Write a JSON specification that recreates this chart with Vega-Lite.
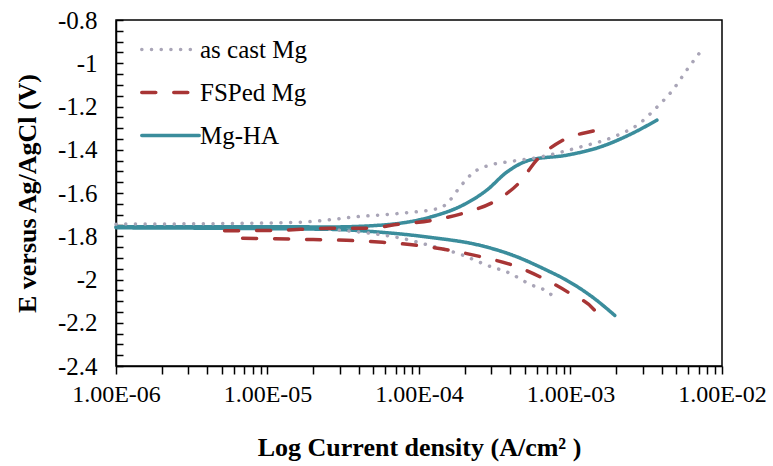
{
  "$schema": "https://vega.github.io/schema/vega-lite/v6.json",
  "width": 606,
  "height": 346,
  "autosize": {"type": "none"},
  "padding": {"left": 116, "top": 20, "right": 51, "bottom": 100},
  "background": "white",
  "config": {
    "view": {"stroke": "black", "strokeWidth": 1.5},
    "font": "Liberation Serif"
  },
  "data": {
    "values": [
      {"s": "Mg-HA", "b": "an", "o": 1, "i": 1e-6, "E": -1.756},
      {"s": "Mg-HA", "b": "an", "o": 2, "i": 3.56e-6, "E": -1.756},
      {"s": "Mg-HA", "b": "an", "o": 3, "i": 1.2e-5, "E": -1.756},
      {"s": "Mg-HA", "b": "an", "o": 4, "i": 2.57e-5, "E": -1.757},
      {"s": "Mg-HA", "b": "an", "o": 5, "i": 5.5e-5, "E": -1.749},
      {"s": "Mg-HA", "b": "an", "o": 6, "i": 1.18e-4, "E": -1.712},
      {"s": "Mg-HA", "b": "an", "o": 7, "i": 1.95e-4, "E": -1.656},
      {"s": "Mg-HA", "b": "an", "o": 8, "i": 2.8e-4, "E": -1.587},
      {"s": "Mg-HA", "b": "an", "o": 9, "i": 3.79e-4, "E": -1.504},
      {"s": "Mg-HA", "b": "an", "o": 10, "i": 5.38e-4, "E": -1.448},
      {"s": "Mg-HA", "b": "an", "o": 11, "i": 9.46e-4, "E": -1.425},
      {"s": "Mg-HA", "b": "an", "o": 12, "i": 1.56e-3, "E": -1.388},
      {"s": "Mg-HA", "b": "an", "o": 13, "i": 2.58e-3, "E": -1.323},
      {"s": "Mg-HA", "b": "an", "o": 14, "i": 3.72e-3, "E": -1.263},
      {"s": "Mg-HA", "b": "ca", "o": 1, "i": 1e-6, "E": -1.761},
      {"s": "Mg-HA", "b": "ca", "o": 2, "i": 2.57e-5, "E": -1.768},
      {"s": "Mg-HA", "b": "ca", "o": 3, "i": 5.5e-5, "E": -1.781},
      {"s": "Mg-HA", "b": "ca", "o": 4, "i": 1.18e-4, "E": -1.805},
      {"s": "Mg-HA", "b": "ca", "o": 5, "i": 2.52e-4, "E": -1.842},
      {"s": "Mg-HA", "b": "ca", "o": 6, "i": 4.16e-4, "E": -1.888},
      {"s": "Mg-HA", "b": "ca", "o": 7, "i": 6.97e-4, "E": -1.957},
      {"s": "Mg-HA", "b": "ca", "o": 8, "i": 9.46e-4, "E": -2.004},
      {"s": "Mg-HA", "b": "ca", "o": 9, "i": 1.4e-3, "E": -2.082},
      {"s": "Mg-HA", "b": "ca", "o": 10, "i": 1.96e-3, "E": -2.166},
      {"s": "as cast Mg", "b": "an", "o": 1, "i": 1e-6, "E": -1.744},
      {"s": "as cast Mg", "b": "an", "o": 2, "i": 7.62e-6, "E": -1.740},
      {"s": "as cast Mg", "b": "an", "o": 3, "i": 1.63e-5, "E": -1.735},
      {"s": "as cast Mg", "b": "an", "o": 4, "i": 2.57e-5, "E": -1.724},
      {"s": "as cast Mg", "b": "an", "o": 5, "i": 3.59e-5, "E": -1.712},
      {"s": "as cast Mg", "b": "an", "o": 6, "i": 7.47e-5, "E": -1.694},
      {"s": "as cast Mg", "b": "an", "o": 7, "i": 1.37e-4, "E": -1.670},
      {"s": "as cast Mg", "b": "an", "o": 8, "i": 1.6e-4, "E": -1.633},
      {"s": "as cast Mg", "b": "an", "o": 9, "i": 1.86e-4, "E": -1.573},
      {"s": "as cast Mg", "b": "an", "o": 10, "i": 2.26e-4, "E": -1.508},
      {"s": "as cast Mg", "b": "an", "o": 11, "i": 2.93e-4, "E": -1.471},
      {"s": "as cast Mg", "b": "an", "o": 12, "i": 3.79e-4, "E": -1.457},
      {"s": "as cast Mg", "b": "an", "o": 13, "i": 6.27e-4, "E": -1.434},
      {"s": "as cast Mg", "b": "an", "o": 14, "i": 1.15e-3, "E": -1.388},
      {"s": "as cast Mg", "b": "an", "o": 15, "i": 1.9e-3, "E": -1.342},
      {"s": "as cast Mg", "b": "an", "o": 16, "i": 2.87e-3, "E": -1.277},
      {"s": "as cast Mg", "b": "an", "o": 17, "i": 3.72e-3, "E": -1.203},
      {"s": "as cast Mg", "b": "an", "o": 18, "i": 4.73e-3, "E": -1.124},
      {"s": "as cast Mg", "b": "an", "o": 19, "i": 5.86e-3, "E": -1.031},
      {"s": "as cast Mg", "b": "an", "o": 20, "i": 7.1e-3, "E": -0.953},
      {"s": "as cast Mg", "b": "ca", "o": 1, "i": 2.57e-5, "E": -1.768},
      {"s": "as cast Mg", "b": "ca", "o": 2, "i": 4.72e-5, "E": -1.786},
      {"s": "as cast Mg", "b": "ca", "o": 3, "i": 7.13e-5, "E": -1.805},
      {"s": "as cast Mg", "b": "ca", "o": 4, "i": 1.23e-4, "E": -1.846},
      {"s": "as cast Mg", "b": "ca", "o": 5, "i": 1.95e-4, "E": -1.888},
      {"s": "as cast Mg", "b": "ca", "o": 6, "i": 2.8e-4, "E": -1.934},
      {"s": "as cast Mg", "b": "ca", "o": 7, "i": 3.97e-4, "E": -1.971},
      {"s": "as cast Mg", "b": "ca", "o": 8, "i": 5.38e-4, "E": -2.022},
      {"s": "as cast Mg", "b": "ca", "o": 9, "i": 7.29e-4, "E": -2.064},
      {"s": "as cast Mg", "b": "ca", "o": 10, "i": 8.1e-4, "E": -2.096},
      {"s": "FSPed Mg", "b": "an", "o": 1, "i": 5.21e-6, "E": -1.775},
      {"s": "FSPed Mg", "b": "an", "o": 2, "i": 1.2e-5, "E": -1.772},
      {"s": "FSPed Mg", "b": "an", "o": 3, "i": 2.57e-5, "E": -1.763},
      {"s": "FSPed Mg", "b": "an", "o": 4, "i": 4.52e-5, "E": -1.763},
      {"s": "FSPed Mg", "b": "an", "o": 5, "i": 7.47e-5, "E": -1.744},
      {"s": "FSPed Mg", "b": "an", "o": 6, "i": 1.23e-4, "E": -1.726},
      {"s": "FSPed Mg", "b": "an", "o": 7, "i": 2.06e-4, "E": -1.689},
      {"s": "FSPed Mg", "b": "an", "o": 8, "i": 3.26e-4, "E": -1.633},
      {"s": "FSPed Mg", "b": "an", "o": 9, "i": 4.62e-4, "E": -1.550},
      {"s": "FSPed Mg", "b": "an", "o": 10, "i": 5.98e-4, "E": -1.448},
      {"s": "FSPed Mg", "b": "an", "o": 11, "i": 8.89e-4, "E": -1.356},
      {"s": "FSPed Mg", "b": "an", "o": 12, "i": 1.49e-3, "E": -1.309},
      {"s": "FSPed Mg", "b": "an", "o": 13, "i": 1.74e-3, "E": -1.295},
      {"s": "FSPed Mg", "b": "ca", "o": 1, "i": 6.85e-6, "E": -1.809},
      {"s": "FSPed Mg", "b": "ca", "o": 2, "i": 1.63e-5, "E": -1.814},
      {"s": "FSPed Mg", "b": "ca", "o": 3, "i": 3.33e-5, "E": -1.819},
      {"s": "FSPed Mg", "b": "ca", "o": 4, "i": 5.75e-5, "E": -1.828},
      {"s": "FSPed Mg", "b": "ca", "o": 5, "i": 9.66e-5, "E": -1.842},
      {"s": "FSPed Mg", "b": "ca", "o": 6, "i": 1.6e-4, "E": -1.865},
      {"s": "FSPed Mg", "b": "ca", "o": 7, "i": 2.64e-4, "E": -1.897},
      {"s": "FSPed Mg", "b": "ca", "o": 8, "i": 4.16e-4, "E": -1.934},
      {"s": "FSPed Mg", "b": "ca", "o": 9, "i": 6.56e-4, "E": -1.994},
      {"s": "FSPed Mg", "b": "ca", "o": 10, "i": 9.89e-4, "E": -2.064},
      {"s": "FSPed Mg", "b": "ca", "o": 11, "i": 1.49e-3, "E": -2.156},
      {"s": "FSPed Mg", "b": "ca", "o": 12, "i": 1.61e-3, "E": -2.203}
    ]
  },
  "mark": {"type": "line", "strokeWidth": 3.5, "strokeCap": "round", "interpolate": "monotone"},
  "encoding": {
    "x": {
      "field": "i",
      "type": "quantitative",
      "scale": {"type": "log", "domain": [1e-6, 1e-2], "nice": false},
      "title": "Log  Current density (A/cm² )",
      "axis": {
        "values": [1e-6, 2e-6, 3e-6, 4e-6, 5e-6, 6e-6, 7e-6, 8e-6, 9e-6, 1e-5, 2e-5, 3e-5, 4e-5, 5e-5, 6e-5, 7e-5, 8e-5, 9e-5, 1e-4, 2e-4, 3e-4, 4e-4, 5e-4, 6e-4, 7e-4, 8e-4, 9e-4, 1e-3, 2e-3, 3e-3, 4e-3, 5e-3, 6e-3, 7e-3, 8e-3, 9e-3, 1e-2],
        "labelExpr": "abs(log(datum.value)/LN10 - round(log(datum.value)/LN10)) < 0.01 ? '1.00E-0' + toString(-round(log(datum.value)/LN10)) : ''",
        "labelOverlap": false,
        "labelFlush": false,
        "grid": false,
        "domainColor": "black",
        "domainWidth": 1.5,
        "tickColor": "black",
        "tickWidth": 1.5,
        "tickSize": 8,
        "labelFont": "Liberation Serif",
        "labelFontSize": 24,
        "labelColor": "black",
        "labelPadding": 8,
        "titleFont": "Liberation Serif",
        "titleFontSize": 26,
        "titleFontWeight": "bold",
        "titleColor": "black",
        "titlePadding": 28
      }
    },
    "y": {
      "field": "E",
      "type": "quantitative",
      "scale": {"domain": [-2.4, -0.8], "nice": false, "zero": false},
      "title": "E versus Ag/AgCl (V)",
      "axis": {
        "values": [-2.4, -2.35, -2.3, -2.25, -2.2, -2.15, -2.1, -2.05, -2.0, -1.95, -1.9, -1.85, -1.8, -1.75, -1.7, -1.65, -1.6, -1.55, -1.5, -1.45, -1.4, -1.35, -1.3, -1.25, -1.2, -1.15, -1.1, -1.05, -1.0, -0.95, -0.9, -0.85, -0.8],
        "labelExpr": "abs(datum.value*5 - round(datum.value*5)) < 0.01 ? toString(round(datum.value*10)/10) : ''",
        "labelOverlap": false,
        "labelFlush": false,
        "grid": false,
        "domainColor": "black",
        "domainWidth": 1.5,
        "tickColor": "black",
        "tickWidth": 1.5,
        "tickSize": -7,
        "labelFont": "Liberation Serif",
        "labelFontSize": 25,
        "labelColor": "black",
        "labelPadding": 26,
        "titleFont": "Liberation Serif",
        "titleFontSize": 26,
        "titleFontWeight": "bold",
        "titleColor": "black",
        "titlePadding": 17
      }
    },
    "color": {
      "field": "s",
      "type": "nominal",
      "scale": {"domain": ["as cast Mg", "FSPed Mg", "Mg-HA"], "range": ["#a9a5b7", "#a83535", "#3b8d9c"]},
      "legend": {
        "title": null,
        "orient": "none",
        "legendX": 42,
        "legendY": 17,
        "symbolType": "M-5,0H5",
        "symbolSize": 132,
        "symbolStrokeWidth": 3.5,
        "labelFont": "Liberation Serif",
        "labelFontSize": 25,
        "labelColor": "black",
        "labelOffset": 17,
        "rowPadding": 17,
        "encode": {"symbols": {"update": {"strokeCap": {"value": "round"}}}}
      }
    },
    "strokeDash": {
      "field": "s",
      "type": "nominal",
      "scale": {"domain": ["as cast Mg", "FSPed Mg", "Mg-HA"], "range": [[0.1, 9.6], [14, 18], [1, 0]]},
      "legend": {
        "title": null,
        "orient": "none",
        "legendX": 42,
        "legendY": 17,
        "symbolType": "M-5,0H5",
        "symbolSize": 132,
        "symbolStrokeWidth": 3.5,
        "labelFont": "Liberation Serif",
        "labelFontSize": 25,
        "labelColor": "black",
        "labelOffset": 17,
        "rowPadding": 17,
        "encode": {"symbols": {"update": {"strokeCap": {"value": "round"}}}}
      }
    },
    "detail": {"field": "b"},
    "order": {"field": "o", "type": "quantitative"}
  }
}
